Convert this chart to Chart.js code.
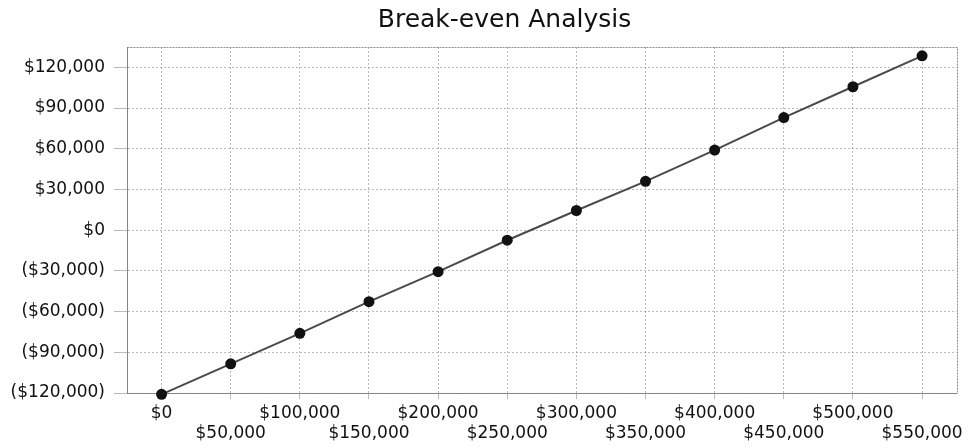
<!DOCTYPE html>
<html>
<head>
<meta charset="utf-8">
<script src="https://cdn.jsdelivr.net/npm/chart.js@4/dist/chart.umd.min.js"></script>
<style>
  html, body { margin: 0; padding: 0; background: #ffffff; }
  #wrap { width: 968px; height: 447px; position: relative; }
</style>
</head>
<body>
<div id="wrap"><canvas id="c"></canvas></div>
<script>
const chartTitle = 'Break-even Analysis';
const revenue = [0, 50000, 100000, 150000, 200000, 250000, 300000, 350000, 400000, 450000, 500000, 550000];
const profit = [-121000, -98500, -76000, -52700, -30600, -7400, 14500, 36000, 59000, 83000, 105700, 128500];
const yTicks = [-120000, -90000, -60000, -30000, 0, 30000, 60000, 90000, 120000];

function money(v) {
  const s = '$' + Math.abs(v).toLocaleString('en-US');
  return v < 0 ? '(' + s + ')' : s;
}

const frame = {
  id: 'frame',
  afterLayout(chart) {
    // shift title centre slightly right, as in the reference
    if (chart.titleBlock) { chart.titleBlock.left = 50; }
  },
  beforeDatasetsDraw(chart) {
    const a = chart.chartArea, ctx = chart.ctx;
    ctx.save();
    ctx.strokeStyle = '#8a8a8a';
    ctx.lineWidth = 1;
    ctx.setLineDash([2, 1]);
    ctx.strokeRect(Math.round(a.left) + 0.5, Math.round(a.top) + 0.5, Math.round(a.right - a.left), Math.round(a.bottom - a.top));
    ctx.restore();
  }
};

const gridCol = 'rgba(120,120,120,0.5)';

new Chart(document.getElementById('c'), {
  type: 'line',
  data: {
    labels: revenue,
    datasets: [{
      data: profit,
      borderColor: '#4a4a4a',
      borderWidth: 2,
      pointRadius: 5.5,
      pointBackgroundColor: '#111111',
      pointBorderWidth: 0,
      tension: 0,
      fill: false,
      clip: false
    }]
  },
  options: {
    responsive: true,
    maintainAspectRatio: false,
    animation: false,
    layout: { padding: { left: 0, right: 9, top: 0, bottom: 0 } },
    plugins: {
      legend: { display: false },
      tooltip: { enabled: false },
      title: {
        display: true,
        text: chartTitle,
        color: '#111111',
        font: { family: 'DejaVu Sans', size: 25, weight: 'normal', lineHeight: 1.2 },
        padding: { top: 5, bottom: 12 }
      }
    },
    scales: {
      x: {
        type: 'category',
        offset: true,
        afterFit(s) { s.height = 54; },
        grid: {
          color: gridCol,
          lineWidth: 1,
          offset: false,
          tickLength: 6,
          tickColor: gridCol
        },
        border: { display: true, color: '#7a7a7a', dash: [2, 2] },
        ticks: {
          autoSkip: false,
          maxRotation: 0,
          minRotation: 0,
          padding: 5,
          color: '#111111',
          font: { family: 'DejaVu Sans', size: 17, lineHeight: 1.15 },
          callback(v, i) {
            const lbl = money(revenue[i]);
            return i % 2 ? ['', lbl] : lbl;
          }
        }
      },
      y: {
        min: -120000,
        max: 135000,
        afterFit(s) { s.width = 127; },
        afterBuildTicks(s) { s.ticks = yTicks.map(v => ({ value: v })); },
        grid: {
          color: gridCol,
          lineWidth: 1,
          tickLength: 13,
          tickColor: gridCol
        },
        border: { display: true, color: '#7a7a7a', dash: [2, 2] },
        ticks: {
          padding: 9,
          color: '#111111',
          font: { family: 'DejaVu Sans', size: 17 },
          callback(v) { return money(v); }
        }
      }
    }
  },
  plugins: [frame]
});
</script>
</body>
</html>
